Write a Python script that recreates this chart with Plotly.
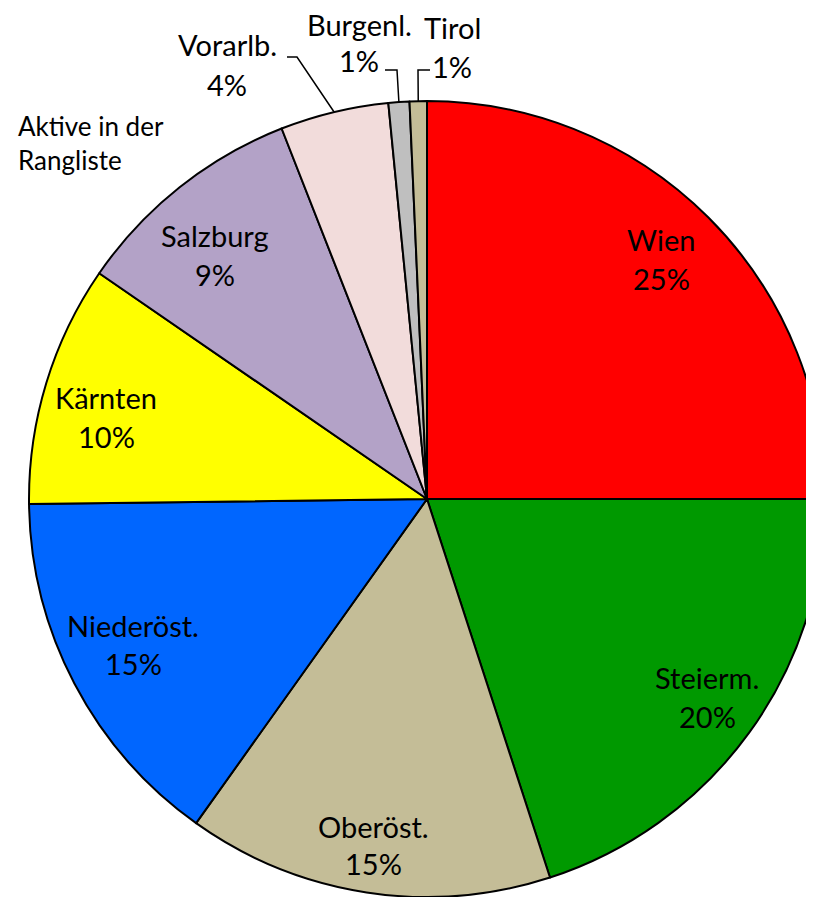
import math
import plotly.graph_objects as go

# ---- data ----
labels = ["Wien", "Steierm.", "Oberöst.", "Niederöst.", "Kärnten",
          "Salzburg", "Vorarlb.", "Burgenl.", "Tirol"]
values = [25.0, 20.0, 14.85, 14.95, 9.8, 9.45, 4.4, 0.85, 0.7]
colors = ["#FF0000", "#009900", "#C4BD97", "#0066FF", "#FFFF00",
          "#B3A2C7", "#F2DCDB", "#BFBFBF", "#C4BD97"]
title_lines = ["Aktive in der", "Rangliste"]

# ---- layout constants (page pixels) ----
OFF = 8            # page body margin
W, H = 822, 889
CX, CY, R = 427, 499, 398
FONT = "Lato"
FS = 29

# label anchor positions (x, y of name line, y of percent line)
label_pos = {
    "Wien": (661, 240, 278),
    "Steierm.": (707, 677, 716),
    "Oberöst.": (373, 826, 863),
    "Niederöst.": (133, 625, 663),
    "Kärnten": (106, 397, 436),
    "Salzburg": (215, 236, 274),
    "Vorarlb.": (227, 45, 85),
    "Burgenl.": (359, 25, 60),
    "Tirol": (452, 27, 66),
}
# leader line start and elbow for outside labels
leaders = {
    "Vorarlb.": ((287, 57), (297, 57)),
    "Burgenl.": ((385, 70), (397, 70)),
    "Tirol": ((430, 70), (418, 70)),
}


def px(x):
    return (x - OFF) / W


def py(y):
    return 1 - (y - OFF) / H


total = sum(values)
pcts = [f"{round(v / total * 100)}%" for v in values]

fig = go.Figure(go.Pie(
    labels=labels, values=values, sort=False, direction="clockwise", rotation=0,
    marker=dict(colors=colors, line=dict(color="black", width=2)),
    textinfo="none", hoverinfo="none", showlegend=False,
    domain=dict(x=[px(CX - R), min(1, px(CX + R))],
                y=[max(0, py(CY + R)), py(CY - R)]),
))

annotations = []
for lab, pct in zip(labels, pcts):
    x, yn, yp = label_pos[lab]
    for txt, yy in ((lab, yn), (pct, yp)):
        annotations.append(dict(
            text=txt, x=px(x), y=py(yy), xref="paper", yref="paper",
            xanchor="center", yanchor="middle", showarrow=False,
            font=dict(family=FONT, size=FS, color="black")))

# title (two lines, left aligned)
for txt, yy in zip(title_lines, (126, 160)):
    annotations.append(dict(
        text=txt, x=px(16), y=py(yy), xref="paper", yref="paper",
        xanchor="left", yanchor="middle", showarrow=False,
        font=dict(family=FONT, size=26, color="black")))

# leader lines, ending at slice mid-angle on the rim
shapes = []
cum = 0.0
for lab, v in zip(labels, values):
    mid = (cum + v / 2) / total * 2 * math.pi
    cum += v
    if lab in leaders:
        (x0, y0), (x1, y1) = leaders[lab]
        ex = CX + R * math.sin(mid)
        ey = CY - R * math.cos(mid)
        path = (f"M {px(x0)} {py(y0)} L {px(x1)} {py(y1)} "
                f"L {px(ex)} {py(ey)}")
        shapes.append(dict(type="path", path=path, xref="paper", yref="paper",
                           line=dict(color="black", width=1.5)))

fig.update_layout(
    width=W, height=H, autosize=False,
    margin=dict(l=0, r=0, t=0, b=0, pad=0),
    paper_bgcolor="white", plot_bgcolor="white",
    annotations=annotations, shapes=shapes,
)

fig.write_html("out.html")
